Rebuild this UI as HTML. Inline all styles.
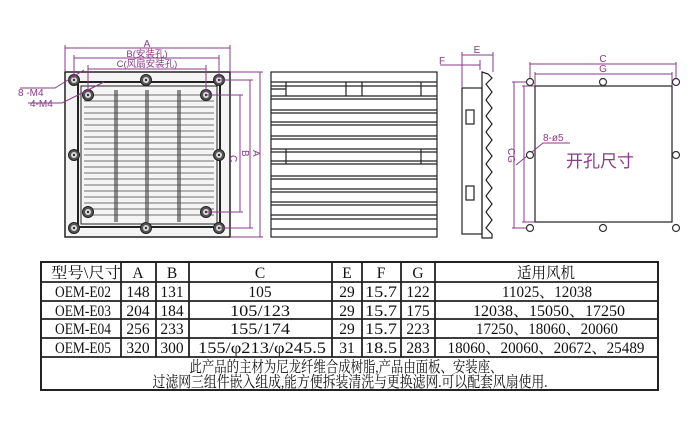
<!DOCTYPE html>
<html><head><meta charset="utf-8"><style>
html,body{margin:0;padding:0;background:#fff;}
svg{display:block;}
.t{font-family:"Liberation Serif","Noto Serif CJK SC",serif;font-size:15.5px;fill:#111;text-anchor:middle;}
.p{font-family:"Liberation Sans","Noto Sans CJK SC",sans-serif;fill:#8a3a88;}
</style></head><body>
<svg width="700" height="446" viewBox="0 0 700 446" xmlns="http://www.w3.org/2000/svg">
<defs>
<g id="hole"><circle r="5.5" fill="#555" stroke="#222"/><circle r="3" fill="#ddd"/><circle r="1.2" fill="#333"/></g>
<g id="oh"><circle r="3.5" fill="#fff" stroke="#333" stroke-width="1.2"/></g>
</defs>
<!-- FRONT VIEW -->
<g stroke="#222" fill="none">
<rect x="65" y="72" width="165" height="165" stroke-width="1.5" fill="#f4f4f4"/>
<rect x="78" y="82" width="142" height="145" stroke-width="2"/>
<rect x="81" y="86" width="136" height="138" stroke-width="1"/>
<g stroke-width="1">
<line x1="115" y1="90" x2="115" y2="222"/><line x1="117" y1="90" x2="117" y2="222"/>
<line x1="146" y1="90" x2="146" y2="222"/><line x1="148" y1="90" x2="148" y2="222"/>
<line x1="178" y1="90" x2="178" y2="222"/><line x1="180" y1="90" x2="180" y2="222"/>
</g>
<g stroke-width="0.8" stroke="#444">
<path d="M84 95H214M84 101H214M84 107H214M84 113H214M84 119H214M84 125H214M84 131H214M84 137H214M84 143H214M84 149H214M84 155H214M84 161H214M84 167H214M84 173H214M84 179H214M84 185H214M84 191H214M84 197H214M84 203H214M84 209H214M84 215H214"/>
</g>
</g>
<use href="#hole" x="74" y="80"/><use href="#hole" x="146" y="80"/><use href="#hole" x="219" y="80"/>
<use href="#hole" x="74" y="155"/><use href="#hole" x="219" y="155"/>
<use href="#hole" x="74" y="228"/><use href="#hole" x="146" y="228"/><use href="#hole" x="219" y="228"/>
<use href="#hole" x="88" y="95"/><use href="#hole" x="206" y="95"/><use href="#hole" x="88" y="212"/><use href="#hole" x="206" y="212"/>
<g stroke="#8a3a88" stroke-width="1" fill="none">
<path d="M65 72V45M230 72V45M65 48H230"/>
<path d="M74 78V55M219 78V55M74 58H219"/>
<path d="M88 92V65M206 92V65M88 69H206"/>
<path d="M230 72H263M230 237H263M260 72V237"/>
<path d="M219 80H253M219 228H253M250 80V228"/>
<path d="M206 95H243M206 212H243M240 95V212"/>
<path d="M20 88H55L84 70M28 103H62L104 82"/>
</g>
<text class="p" x="147" y="47" font-size="10" text-anchor="middle">A</text>
<text class="p" x="147" y="57" font-size="9.5" text-anchor="middle">B(安装孔)</text>
<text class="p" x="147" y="67" font-size="9.5" text-anchor="middle">C(风扇安装孔)</text>
<text class="p" x="18" y="96" font-size="10">8 -M4</text>
<text class="p" x="30" y="107" font-size="10">4-M4</text>
<text class="p" x="0" y="0" font-size="10" transform="translate(230,155) rotate(90)">C</text>
<text class="p" x="0" y="0" font-size="10" transform="translate(242,150) rotate(90)">B</text>
<text class="p" x="0" y="0" font-size="10" transform="translate(253,150) rotate(90)">A</text>
<!-- MIDDLE VIEW -->
<g stroke="#222" fill="none" stroke-width="1.2">
<rect x="271" y="72" width="166" height="165"/>
<path d="M271 82H437M271 86H437M271 96H437M271 99H437M271 110H437M271 113H437M271 122H437M271 125H437M271 136H437M271 139H437M271 149H437M271 152H437M271 161H437M271 164H437M271 176H437M271 179H437M271 189H437M271 192H437M271 202H437M271 205H437M271 215H437M271 219H437M271 229H437"/>
<path d="M286 82V96M346 82V96M362 82V96M421 82V96M286 149V164M421 149V164M271 89H286"/>
</g>
<!-- SIDE VIEW -->
<g stroke="#222" fill="none" stroke-width="1.2">
<rect x="462" y="88" width="20" height="146"/>
<rect x="466" y="110" width="8" height="14"/><rect x="466" y="186" width="8" height="14"/>
<path d="M482 72L488 74L492 78L486 84L492 92L486 100L492 108L486 116L492 124L486 132L492 140L486 148L492 156L486 164L492 172L486 180L492 188L486 196L492 204L486 212L492 220L486 228L492 234V238L482 238Z"/>
</g>
<g stroke="#8a3a88" stroke-width="1" fill="none">
<path d="M462 88V52M493 72V52M462 55H493M440 65H480M480 60V70"/>
</g>
<text class="p" x="477" y="53" font-size="10" text-anchor="middle">E</text>
<text class="p" x="439" y="64" font-size="10">F</text>
<!-- RIGHT VIEW -->
<rect x="535" y="86" width="137" height="136" fill="none" stroke="#222" stroke-width="1.2"/>
<g stroke="#8a3a88" stroke-width="1" fill="none">
<path d="M530 78V62M676 78V62M530 64H676M535 86V72M672 86V72M535 74H672"/>
<path d="M512 82H530M512 228H530M514 82V228M522 86H535M522 222H535M524 86V222"/>
<path d="M516 165L543 143H570"/>
</g>
<use href="#oh" x="530" y="82"/><use href="#oh" x="603" y="82"/><use href="#oh" x="676" y="82"/>
<use href="#oh" x="530" y="155"/><use href="#oh" x="676" y="155"/>
<use href="#oh" x="530" y="228"/><use href="#oh" x="603" y="228"/><use href="#oh" x="676" y="228"/>
<text class="p" x="603" y="62" font-size="10" text-anchor="middle">C</text>
<text class="p" x="603" y="72" font-size="10" text-anchor="middle">G</text>
<text class="p" x="543" y="141" font-size="10">8-ø5</text>
<text class="p" x="0" y="0" font-size="10" transform="translate(508,148) rotate(90)">CG</text>
<text class="p" x="566" y="167" font-size="17" font-family="Noto Sans CJK SC,sans-serif">开孔尺寸</text>
<!-- TABLE -->
<g stroke="#222" fill="none">
<rect x="41" y="262" width="617" height="128" stroke-width="2"/>
<g stroke-width="1.8">
<path d="M41 282H658M41 301H658M41 319H658M41 338H658M41 357H658"/>
<path d="M121 262V357M156 262V357M189 262V357M332 262V357M362 262V357M401 262V357M435 262V357"/>
</g>
</g>
<g class="t" lengthAdjust="spacingAndGlyphs">
<text x="86" y="278" textLength="70" lengthAdjust="spacingAndGlyphs">型号\尺寸</text><text x="138" y="278">A</text><text x="172" y="278">B</text><text x="260" y="278">C</text><text x="347" y="278">E</text><text x="381" y="278">F</text><text x="418" y="278">G</text><text x="546" y="278" textLength="58" lengthAdjust="spacingAndGlyphs">适用风机</text>
<text x="83" y="297" textLength="56" lengthAdjust="spacingAndGlyphs">OEM-E02</text><text x="138" y="297">148</text><text x="172" y="297">131</text><text x="260" y="297">105</text><text x="347" y="297">29</text><text x="381" y="297" textLength="32" lengthAdjust="spacingAndGlyphs">15.7</text><text x="418" y="297">122</text><text x="547" y="297" textLength="90" lengthAdjust="spacingAndGlyphs">11025、12038</text>
<text x="83" y="316" textLength="56" lengthAdjust="spacingAndGlyphs">OEM-E03</text><text x="138" y="316">204</text><text x="172" y="316">184</text><text x="260" y="316" textLength="60" lengthAdjust="spacingAndGlyphs">105/123</text><text x="347" y="316">29</text><text x="381" y="316" textLength="32" lengthAdjust="spacingAndGlyphs">15.7</text><text x="418" y="316">175</text><text x="549" y="316" textLength="152" lengthAdjust="spacingAndGlyphs">12038、15050、17250</text>
<text x="83" y="334" textLength="56" lengthAdjust="spacingAndGlyphs">OEM-E04</text><text x="138" y="334">256</text><text x="172" y="334">233</text><text x="260" y="334" textLength="60" lengthAdjust="spacingAndGlyphs">155/174</text><text x="347" y="334">29</text><text x="381" y="334" textLength="32" lengthAdjust="spacingAndGlyphs">15.7</text><text x="418" y="334">223</text><text x="547" y="334" textLength="142" lengthAdjust="spacingAndGlyphs">17250、18060、20060</text>
<text x="83" y="353" textLength="56" lengthAdjust="spacingAndGlyphs">OEM-E05</text><text x="138" y="353">320</text><text x="172" y="353">300</text><text x="262" y="353" textLength="128" lengthAdjust="spacingAndGlyphs">155/φ213/φ245.5</text><text x="347" y="353">31</text><text x="381" y="353" textLength="32" lengthAdjust="spacingAndGlyphs">18.5</text><text x="418" y="353">283</text><text x="546" y="353" textLength="197" lengthAdjust="spacingAndGlyphs">18060、20060、20672、25489</text>
</g>
<text class="t" x="346" y="372" font-size="13" textLength="313" lengthAdjust="spacingAndGlyphs">此产品的主材为尼龙纤维合成树脂,产品由面板、安装座、</text>
<text class="t" x="350" y="387" font-size="13" textLength="395" lengthAdjust="spacingAndGlyphs">过滤网三组件嵌入组成,能方便拆装清洗与更换滤网.可以配套风扇使用.</text>
</svg>
</body></html>
